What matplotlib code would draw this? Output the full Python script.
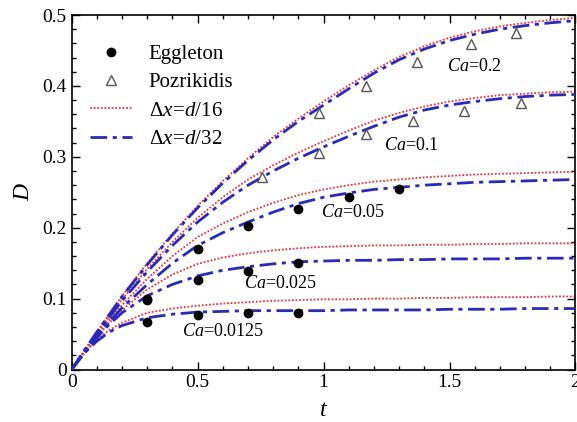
import matplotlib
matplotlib.use("Agg")
import matplotlib.pyplot as plt
from matplotlib.ticker import MultipleLocator

plt.rcParams['font.family'] = ['Liberation Serif', 'DejaVu Serif']
plt.rcParams['mathtext.fontset'] = 'custom'
plt.rcParams['mathtext.rm'] = 'Liberation Serif'
plt.rcParams['mathtext.it'] = 'Liberation Serif:italic'

# common time grid for the simulated curves
t = [0, 0.05, 0.1, 0.15, 0.2, 0.3, 0.4, 0.5, 0.6, 0.7, 0.8, 0.9, 1.0,
     1.1, 1.2, 1.3, 1.4, 1.5, 1.6, 1.7, 1.8, 1.9, 2.0]

# dx = d/32 (blue dash-dot)
d32_ca02 = [0, 0.027, 0.053, 0.078, 0.103, 0.148, 0.19, 0.228, 0.263, 0.295, 0.324, 0.35,
            0.373, 0.396, 0.418, 0.437, 0.452, 0.464, 0.473, 0.48, 0.485, 0.489, 0.492]
d32_ca01 = [0, 0.026, 0.05, 0.074, 0.097, 0.138, 0.175, 0.208, 0.236, 0.26, 0.28, 0.298,
            0.314, 0.329, 0.343, 0.356, 0.366, 0.373, 0.378, 0.382, 0.385, 0.387, 0.388]
d32_ca005 = [0, 0.025, 0.047, 0.068, 0.087, 0.12, 0.15, 0.175, 0.193, 0.208, 0.222, 0.234,
             0.243, 0.249, 0.254, 0.257, 0.26, 0.262, 0.264, 0.265, 0.266, 0.267, 0.268]
d32_ca0025 = [0, 0.024, 0.045, 0.064, 0.08, 0.104, 0.12, 0.132, 0.14, 0.145, 0.149, 0.152,
              0.153, 0.154, 0.154, 0.155, 0.155, 0.156, 0.156, 0.156, 0.157, 0.157, 0.157]
d32_ca00125 = [0, 0.023, 0.04, 0.053, 0.062, 0.073, 0.078, 0.081, 0.082, 0.083, 0.083, 0.083,
               0.083, 0.084, 0.084, 0.084, 0.084, 0.085, 0.085, 0.085, 0.086, 0.086, 0.086]

# dx = d/16 (red dotted)
d16_ca02 = [0, 0.027, 0.053, 0.079, 0.104, 0.15, 0.192, 0.231, 0.266, 0.298, 0.328, 0.354,
            0.378, 0.401, 0.422, 0.441, 0.456, 0.468, 0.477, 0.484, 0.489, 0.493, 0.496]
d16_ca01 = [0, 0.026, 0.051, 0.075, 0.099, 0.142, 0.18, 0.214, 0.243, 0.268, 0.288, 0.306,
            0.322, 0.337, 0.351, 0.362, 0.371, 0.378, 0.383, 0.387, 0.389, 0.391, 0.392]
d16_ca005 = [0, 0.025, 0.048, 0.07, 0.091, 0.128, 0.16, 0.187, 0.206, 0.222, 0.235, 0.246,
             0.254, 0.26, 0.265, 0.268, 0.271, 0.273, 0.275, 0.276, 0.277, 0.278, 0.279]
d16_ca0025 = [0, 0.024, 0.046, 0.066, 0.084, 0.113, 0.134, 0.149, 0.158, 0.164, 0.168, 0.171,
              0.173, 0.174, 0.175, 0.175, 0.176, 0.176, 0.177, 0.177, 0.178, 0.178, 0.178]
d16_ca00125 = [0, 0.023, 0.042, 0.056, 0.066, 0.08, 0.086, 0.09, 0.093, 0.095, 0.097, 0.098,
               0.099, 0.099, 0.1, 0.1, 0.101, 0.101, 0.102, 0.102, 0.102, 0.103, 0.103]

# Eggleton (filled circles)
egg_t = [0.3, 0.5, 0.7, 0.9, 1.1, 1.3,
         0.3, 0.5, 0.7, 0.9,
         0.3, 0.5, 0.7, 0.9]
egg_D = [0.1, 0.17, 0.203, 0.226, 0.243, 0.254,
         0.098, 0.126, 0.139, 0.15,
         0.067, 0.077, 0.08, 0.08]

# Pozrikidis (open triangles)
poz_t = [0.98, 1.17, 1.37, 1.586, 1.764,
         0.754, 0.98, 1.17, 1.356, 1.557, 1.783]
poz_D = [0.362, 0.40, 0.434, 0.459, 0.475,
         0.271, 0.305, 0.332, 0.35, 0.365, 0.376]

ca_labels = ['0.2', '0.1', '0.05', '0.025', '0.0125']
label_t = [1.49, 1.24, 0.99, 0.686, 0.437]
label_D = [0.427, 0.316, 0.221, 0.122, 0.053]

red = '#e8343c'
blue = '#2a2ab8'

fig = plt.figure(figsize=(5.77, 4.22), dpi=100)
ax = fig.add_axes([0.1243, 0.1244, 0.873, 0.840])

d16 = [d16_ca02, d16_ca01, d16_ca005, d16_ca0025, d16_ca00125]
d32 = [d32_ca02, d32_ca01, d32_ca005, d32_ca0025, d32_ca00125]

for i in range(5):
    ax.plot(t, d16[i], color=red, lw=1.3, ls=(0, (1, 1)),
            label=r'$\Delta x\!=\!d/16$' if i == 0 else None, zorder=2)
    ax.plot(t, d32[i], color=blue, lw=2.0, ls=(0, (6, 2, 1.5, 2)),
            label=r'$\Delta x\!=\!d/32$' if i == 0 else None, zorder=3)

ax.plot(egg_t, egg_D, 'o', color='black', ms=6, label='Eggleton', zorder=4)
ax.plot(poz_t, poz_D, '^', mfc='white', mec='#555555', mew=1.0, ms=7,
        label='Pozrikidis', zorder=4)

for lab, lt, ld in zip(ca_labels, label_t, label_D):
    ax.text(lt, ld, r'$Ca$=' + lab, fontsize=13, va='center', ha='left')

ax.set_xlim(0, 2)
ax.set_ylim(0, 0.5)
ax.set_xticks([0, 0.5, 1, 1.5, 2])
ax.set_xticklabels(['0', '0.5', '1', '1.5', '2'])
ax.set_yticks([0, 0.1, 0.2, 0.3, 0.4, 0.5])
ax.set_yticklabels(['0', '0.1', '0.2', '0.3', '0.4', '0.5'])
ax.xaxis.set_minor_locator(MultipleLocator(0.1))
ax.yaxis.set_minor_locator(MultipleLocator(0.02))
ax.tick_params(which='both', direction='in', top=True, right=True, labelsize=14)
ax.tick_params(which='major', length=6, width=1)
ax.tick_params(which='minor', length=3, width=1)
for s in ax.spines.values():
    s.set_linewidth(1.2)

ax.set_xlabel('t', fontsize=17, style='italic', labelpad=6)
ax.set_ylabel('D', fontsize=17, style='italic', labelpad=6)

handles, labels = ax.get_legend_handles_labels()
order = [labels.index('Eggleton'), labels.index('Pozrikidis'), 0, 1]
ax.legend([handles[k] for k in order], [labels[k] for k in order],
          loc='upper left', bbox_to_anchor=(0.0, 0.97), frameon=False,
          fontsize=15, handlelength=2.0, handletextpad=0.8, labelspacing=0.42)

fig.savefig('out.png', dpi=100)
